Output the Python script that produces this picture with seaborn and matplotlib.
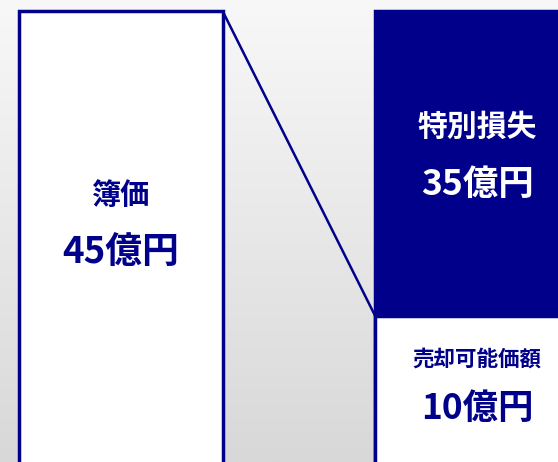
import numpy as np
import pandas as pd
import matplotlib
matplotlib.use("Agg")
import matplotlib.pyplot as plt
from matplotlib.colors import LinearSegmentedColormap
from matplotlib.transforms import blended_transform_factory
import seaborn as sns

# ---- data ----
bar_keys = ["book", "split"]
book_label = "簿価"
loss_label = "特別損失"
sale_label = "売却可能価額"
book_value = 45
loss_value = 35
sale_value = 10
unit = "億円"

NAVY = "#00008b"

sns.set_theme(style="white")
plt.rcParams['font.family'] = ['Noto Sans CJK JP', 'DejaVu Sans']

fig = plt.figure(figsize=(5.58, 4.62), dpi=100)

# background gradient
bg = fig.add_axes([0, 0, 1, 1], zorder=0)
grad = np.linspace(0, 1, 256).reshape(-1, 1)
cmap = LinearSegmentedColormap.from_list("bg", ["#f8f8f8", "#d8d8d8"])
bg.imshow(grad, aspect="auto", cmap=cmap, extent=[0, 1, 0, 1], origin="upper")
bg.set_axis_off()

ax = fig.add_axes([0, 0, 1, 1], zorder=1)
ax.patch.set_alpha(0)
ax.set_yscale("function", functions=(lambda y: np.sqrt(np.clip(y, 0, None)), np.square))

W = 0.572
df_total = pd.DataFrame({"bar": bar_keys, "value": [book_value, sale_value + loss_value]})
df_sale = pd.DataFrame({"bar": [bar_keys[1]], "value": [sale_value]})

sns.barplot(data=df_total, x="bar", y="value", order=bar_keys, hue="bar",
            palette={bar_keys[0]: "white", bar_keys[1]: NAVY}, saturation=1,
            width=W, edgecolor=NAVY, linewidth=2.5, legend=False, ax=ax)
sns.barplot(data=df_sale, x="bar", y="value", order=bar_keys, color="white",
            saturation=1, width=W, edgecolor=NAVY, linewidth=2.5, ax=ax)

ax.plot([0 + W / 2, 1 - W / 2], [book_value, sale_value], color=NAVY, lw=1.8,
        solid_capstyle="butt", zorder=3)

ax.set_xlim(-0.3399, 1.2275)
ax.set_ylim(2.137, 46.81)
ax.set_axis_off()

tr = blended_transform_factory(ax.transData, ax.transAxes)
H = 462.0
def put(x, px, s, size, color):
    ax.text(x, 1 - px / H, s, transform=tr, ha="center", va="center",
            fontsize=size, fontweight="bold", color=color, zorder=5)

put(0, 195, book_label, 21, NAVY)
put(0, 253, f"{book_value}{unit}", 26.5, NAVY)
put(1, 127, loss_label, 21.5, "white")
put(1, 184, f"{loss_value}{unit}", 25.5, "white")
put(1, 359, sale_label, 15.5, NAVY)
put(1, 408, f"{sale_value}{unit}", 25.5, NAVY)

fig.savefig("out.png", dpi=100)
